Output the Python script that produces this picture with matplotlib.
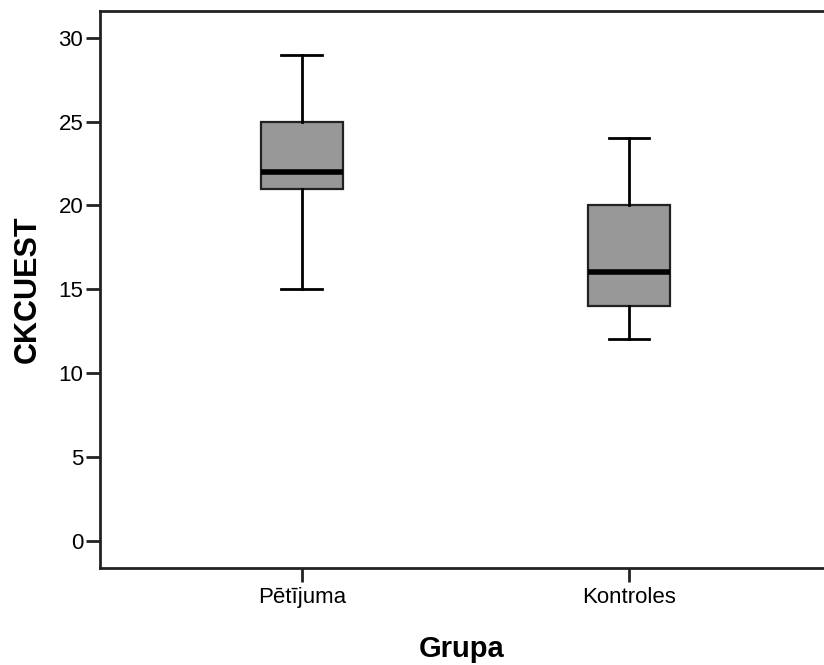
import numpy as np
import matplotlib.pyplot as plt

plt.rcParams['font.family'] = ['Liberation Sans', 'DejaVu Sans']

grupas = ['Pētījuma', 'Kontroles']
# min, Q1, mediāna, Q3, max
minimums = [15, 12]
q1 = [21, 14]
mediana = [22, 16]
q3 = [25, 20]
maksimums = [29, 24]

stats = []
for i, g in enumerate(grupas):
    stats.append({'label': g, 'whislo': minimums[i], 'q1': q1[i], 'med': mediana[i],
                  'q3': q3[i], 'whishi': maksimums[i], 'fliers': []})

fig = plt.figure(figsize=(8.24, 6.65), dpi=100)
ax = fig.add_axes([100 / 824, 1 - 568 / 665, 724 / 824, 557 / 665])

ax.bxp(stats, positions=[1, 2], widths=0.25, patch_artist=True, showfliers=False,
       boxprops=dict(facecolor='#989898', edgecolor='#222222', linewidth=1.6),
       whiskerprops=dict(color='black', linewidth=2),
       capprops=dict(color='black', linewidth=2),
       medianprops=dict(color='black', linewidth=4))

ax.set_xlim(0.383, 2.596)
ax.set_ylim(-1.64, 31.6)
ax.set_yticks([0, 5, 10, 15, 20, 25, 30])
ax.set_xticks([1, 2])
ax.set_xticklabels(grupas)

for s in ['left', 'bottom', 'top']:
    ax.spines[s].set_linewidth(2)
    ax.spines[s].set_color('#222222')
ax.spines['right'].set_visible(False)
ax.tick_params(axis='both', length=10, width=2, color='#222222', labelsize=16)
ax.tick_params(axis='x', pad=4)
ax.tick_params(axis='y', pad=2)

ax.set_xlabel('Grupa', fontsize=21, fontweight='bold', labelpad=19)
ax.set_ylabel('CKCUEST', fontsize=22, fontweight='bold', labelpad=11)

fig.savefig('out.png', dpi=100)
